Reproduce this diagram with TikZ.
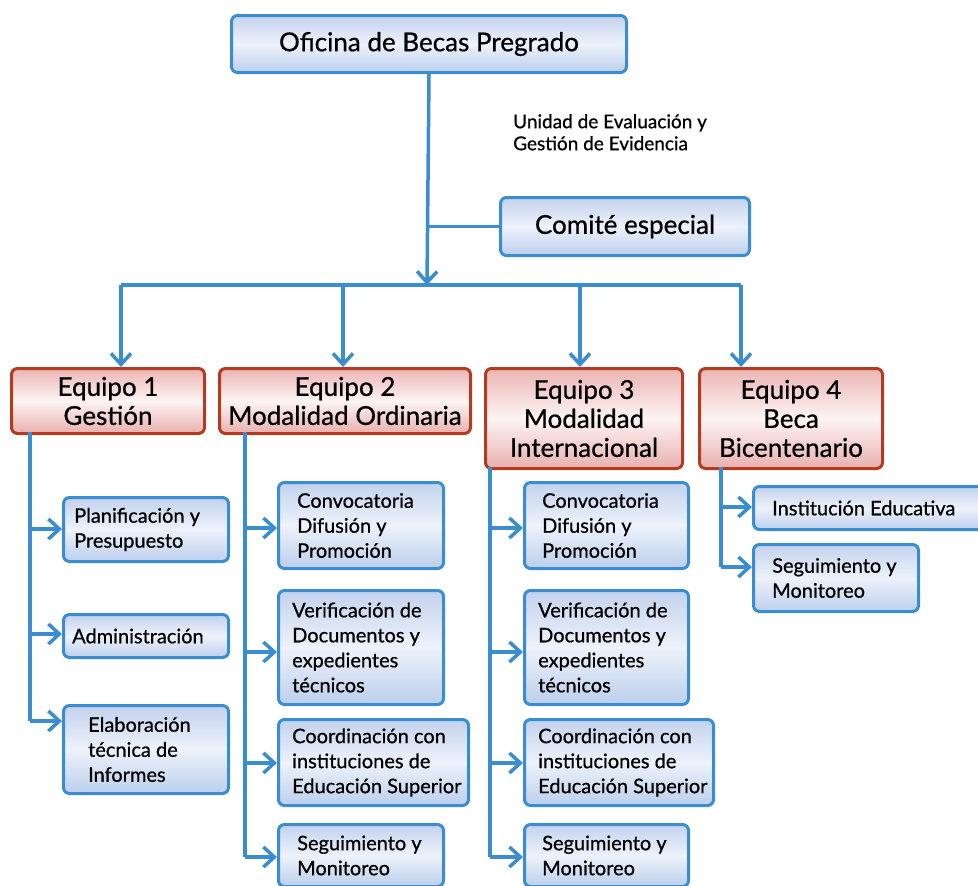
\documentclass[tikz,border=0pt]{standalone}
\usepackage{fontspec}
\setmainfont{Lato}[FakeBold=0.7]
\usetikzlibrary{arrows.meta}
\definecolor{lineblue}{HTML}{3A8DD0}
\definecolor{boxred}{HTML}{B23B22}
\definecolor{bluetop}{HTML}{C3D2ED}
\definecolor{bluemid}{HTML}{EDF2FB}
\definecolor{bluebot}{HTML}{BCCFEC}
\definecolor{redtop}{HTML}{EBB5B3}
\definecolor{redmid}{HTML}{FDF4F4}
\definecolor{redbot}{HTML}{E8B0AE}
\tikzset{
  conn/.style={draw=lineblue, line width=3.5pt},
  arr/.style={conn, -{Straight Barb[length=11pt, width=20pt, line width=3.5pt]}},
  bluebox/.style={rounded corners=6pt, draw=lineblue, line width=3pt,
    top color=bluetop, bottom color=bluebot, middle color=bluemid,
    inner sep=0pt, anchor=north west},
  redbox/.style={rounded corners=6pt, draw=boxred, line width=3pt,
    top color=redtop, bottom color=redbot, middle color=redmid,
    inner sep=0pt, align=center, anchor=north west,
    font=\fontsize{26}{29}\selectfont},
  headbox/.style={bluebox, align=center,
    font=\fontsize{26}{29}\selectfont},
  unittext/.style={font=\fontsize{20}{25}\selectfont, align=left, inner sep=0pt, anchor=west},
  note/.style={font=\fontsize{19}{22}\selectfont, align=left, inner sep=0pt, anchor=north west}
}
% unit box: name, corner, width, height, text indent, text
\newcommand{\unitbox}[6]{%
  \node[bluebox, minimum width=#3, minimum height=#4] (#1) at (#2) {};
  \node[unittext] (#1t) at ([xshift=#5]#1.west) {#6};
}
\begin{document}
\begin{tikzpicture}[x=1pt, y=-1pt]
\clip (0,0) rectangle (978,886);
\fill[white] (0,0) rectangle (978,886);

% head office and special committee
\node[headbox, minimum width=395, minimum height=57] (ofi) at (230,14) {Oficina de Becas Pregrado};
\node[headbox, minimum width=249, minimum height=58] (com) at (499,196) {Comité especial};
\node[note] (uni) at (513,114) {Unidad de Evaluación y\\Gestión de Evidencia};

% teams
\node[redbox, minimum width=193, minimum height=65] (e1) at (10,367) {Equipo 1\\Gestión};
\node[redbox, minimum width=251, minimum height=65] (e2) at (218,367) {Equipo 2\\Modalidad Ordinaria};
\node[redbox, minimum width=197, minimum height=100] (e3) at (484,367) {Equipo 3\\Modalidad\\Internacional};
\node[redbox, minimum width=183, minimum height=100] (e4) at (698,367) {Equipo 4\\Beca\\Bicentenario};

% team 1 units
\unitbox{u11}{62,496}{165}{64}{12pt}{Planificación y\\Presupuesto}
\unitbox{u12}{62,613}{165}{43}{10pt}{Administración}
\unitbox{u13}{62,704}{165}{88}{26pt}{Elaboración\\técnica de\\Informes}

% team 2 units
\unitbox{u21}{277,481}{165}{86}{20pt}{Convocatoria\\Difusión y\\Promoción}
\unitbox{u22}{277,589}{165}{114}{15pt}{Verificación de\\Documentos y\\expedientes\\técnicos}
\unitbox{u23}{277,718}{190}{86}{15pt}{Coordinación con\\instituciones de\\Educación Superior}
\unitbox{u24}{277,823}{165}{62}{20pt}{Seguimiento y\\Monitoreo}

% team 3 units
\unitbox{u31}{523,481}{164}{86}{19pt}{Convocatoria\\Difusión y\\Promoción}
\unitbox{u32}{523,589}{164}{114}{15pt}{Verificación de\\Documentos y\\expedientes\\técnicos}
\unitbox{u33}{523,718}{189}{86}{15pt}{Coordinación con\\instituciones de\\Educación Superior}
\unitbox{u34}{523,823}{164}{62}{19pt}{Seguimiento y\\Monitoreo}

% team 4 units
\unitbox{u41}{752,485}{248}{43}{20pt}{Institución Educativa}
\unitbox{u42}{752,543}{165}{67}{20pt}{Seguimiento y\\Monitoreo}

% main trunk and bus
\coordinate (bus) at (427,285);
\coordinate (b1) at (121,285);
\coordinate (b2) at (343,285);
\coordinate (b3) at (580,285);
\coordinate (b4) at (741,285);
\draw[arr] (ofi.south) -- (bus);
\draw[conn] (bus |- com.west) -- (com.west);
\draw[conn] (b1) -- (b4);
\draw[arr] (b1) -- (b1 |- e1.north);
\draw[arr] (b2) -- (b2 |- e2.north);
\draw[arr] (b3) -- (b3 |- e3.north);
\draw[arr] (b4) -- (b4 |- e4.north);

% team 1 spine
\coordinate (s1) at (30,432);
\coordinate (a11) at (30,529);
\coordinate (a12) at (30,634);
\coordinate (a13) at (30,721);
\draw[conn] (s1) -- (a13);
\draw[arr] (a11) -- (a11 -| u11.west);
\draw[arr] (a12) -- (a12 -| u12.west);
\draw[arr] (a13) -- (a13 -| u13.west);

% team 2 spine
\coordinate (s2) at (245,432);
\coordinate (a21) at (245,528);
\coordinate (a22) at (245,652);
\coordinate (a23) at (245,763);
\coordinate (a24) at (245,857);
\draw[conn] (s2) -- (a24);
\draw[arr] (a21) -- (a21 -| u21.west);
\draw[arr] (a22) -- (a22 -| u22.west);
\draw[arr] (a23) -- (a23 -| u23.west);
\draw[arr] (a24) -- (a24 -| u24.west);

% team 3 spine
\coordinate (s3) at (490,467);
\coordinate (a31) at (490,528);
\coordinate (a32) at (490,652);
\coordinate (a33) at (490,763);
\coordinate (a34) at (490,857);
\draw[conn] (s3) -- (a34);
\draw[arr] (a31) -- (a31 -| u31.west);
\draw[arr] (a32) -- (a32 -| u32.west);
\draw[arr] (a33) -- (a33 -| u33.west);
\draw[arr] (a34) -- (a34 -| u34.west);

% team 4 spine
\coordinate (s4) at (721,467);
\coordinate (a41) at (721,507);
\coordinate (a42) at (721,567);
\draw[conn] (s4) -- (a42);
\draw[arr] (a41) -- (a41 -| u41.west);
\draw[arr] (a42) -- (a42 -| u42.west);
\end{tikzpicture}
\end{document}
